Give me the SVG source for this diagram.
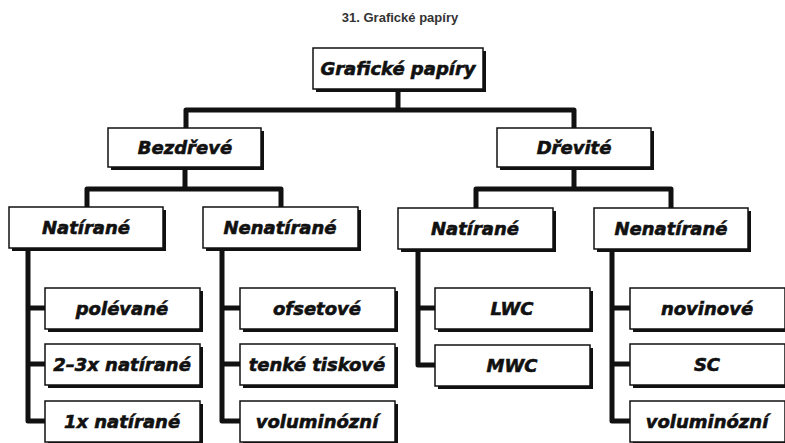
<svg xmlns="http://www.w3.org/2000/svg" width="785" height="443" viewBox="0 0 785 443">
<style>
.sh{fill:#111}
.bx{fill:#fff;stroke:#111;stroke-width:1.5}
.t{font-family:"DejaVu Sans",sans-serif;font-weight:bold;font-style:italic;font-size:18px;fill:#111;stroke:#111;stroke-width:0.6;text-anchor:middle}
.c{fill:none;stroke:#111;stroke-width:5;stroke-linejoin:round;stroke-linecap:butt}
.title{font-family:"Liberation Sans",Arial,sans-serif;font-weight:bold;font-size:13px;fill:#333;text-anchor:middle}
</style>
<rect width="785" height="443" fill="#fff"/>
<text class="title" x="400" y="22">31. Grafické papíry</text>
<g id="connectors">
<path class="c" d="M398,89 V110 M186,128 V110 H574 V128"/>
<path class="c" d="M185,167 V189 M87,207 V189 H281 V207"/>
<path class="c" d="M574,167 V189 M476,208 V189 H671 V208"/>
<path class="c" d="M28,248 V421 H45 M28,308 H45 M28,364 H45"/>
<path class="c" d="M222,248 V421 H240 M222,308 H240 M222,364 H240"/>
<path class="c" d="M418,249 V365 H435 M418,308 H435"/>
<path class="c" d="M612,249 V421 H630 M612,308 H630 M612,364 H630"/>
</g>
<g id="root"><rect class="sh" x="316" y="51" width="170" height="41"/><rect class="bx" x="313" y="48" width="170" height="41"/><text class="t" x="398" y="75">Grafické papíry</text></g>
<g id="bezdrevne"><rect class="sh" x="111" y="131" width="153" height="39"/><rect class="bx" x="108" y="128" width="153" height="39"/><text class="t" x="185" y="154">Bezdřevé</text></g>
<g id="drevite"><rect class="sh" x="500" y="131" width="154" height="39"/><rect class="bx" x="497" y="128" width="154" height="39"/><text class="t" x="574" y="154">Dřevité</text></g>
<g id="b-natirane"><rect class="sh" x="12" y="210" width="154" height="41"/><rect class="bx" x="9" y="207" width="154" height="41"/><text class="t" x="86" y="234">Natírané</text></g>
<g id="b-nenatirane"><rect class="sh" x="206" y="210" width="155" height="41"/><rect class="bx" x="203" y="207" width="155" height="41"/><text class="t" x="280" y="234">Nenatírané</text></g>
<g id="d-natirane"><rect class="sh" x="401" y="211" width="155" height="41"/><rect class="bx" x="398" y="208" width="155" height="41"/><text class="t" x="475" y="235">Natírané</text></g>
<g id="d-nenatirane"><rect class="sh" x="597" y="211" width="154" height="41"/><rect class="bx" x="594" y="208" width="154" height="41"/><text class="t" x="671" y="235">Nenatírané</text></g>
<g id="polevane"><rect class="sh" x="48" y="291" width="155" height="41"/><rect class="bx" x="45" y="288" width="155" height="41"/><text class="t" x="122" y="315">polévané</text></g>
<g id="natirane23"><rect class="sh" x="48" y="347" width="155" height="41"/><rect class="bx" x="45" y="344" width="155" height="41"/><text class="t" x="122" y="371">2–3x natírané</text></g>
<g id="natirane1"><rect class="sh" x="48" y="404" width="155" height="41"/><rect class="bx" x="45" y="401" width="155" height="41"/><text class="t" x="122" y="428">1x natírané</text></g>
<g id="ofsetove"><rect class="sh" x="243" y="291" width="155" height="41"/><rect class="bx" x="240" y="288" width="155" height="41"/><text class="t" x="317" y="315">ofsetové</text></g>
<g id="tenke"><rect class="sh" x="243" y="347" width="155" height="41"/><rect class="bx" x="240" y="344" width="155" height="41"/><text class="t" x="317" y="371">tenké tiskové</text></g>
<g id="volum-b"><rect class="sh" x="243" y="404" width="155" height="41"/><rect class="bx" x="240" y="401" width="155" height="41"/><text class="t" x="317" y="428">voluminózní</text></g>
<g id="lwc"><rect class="sh" x="438" y="291" width="155" height="41"/><rect class="bx" x="435" y="288" width="155" height="41"/><text class="t" x="512" y="315">LWC</text></g>
<g id="mwc"><rect class="sh" x="438" y="348" width="155" height="41"/><rect class="bx" x="435" y="345" width="155" height="41"/><text class="t" x="512" y="372">MWC</text></g>
<g id="novinove"><rect class="sh" x="633" y="291" width="155" height="41"/><rect class="bx" x="630" y="288" width="155" height="41"/><text class="t" x="707" y="315">novinové</text></g>
<g id="sc"><rect class="sh" x="633" y="347" width="155" height="41"/><rect class="bx" x="630" y="344" width="155" height="41"/><text class="t" x="707" y="371">SC</text></g>
<g id="volum-d"><rect class="sh" x="633" y="404" width="155" height="41"/><rect class="bx" x="630" y="401" width="155" height="41"/><text class="t" x="707" y="428">voluminózní</text></g>
</svg>
